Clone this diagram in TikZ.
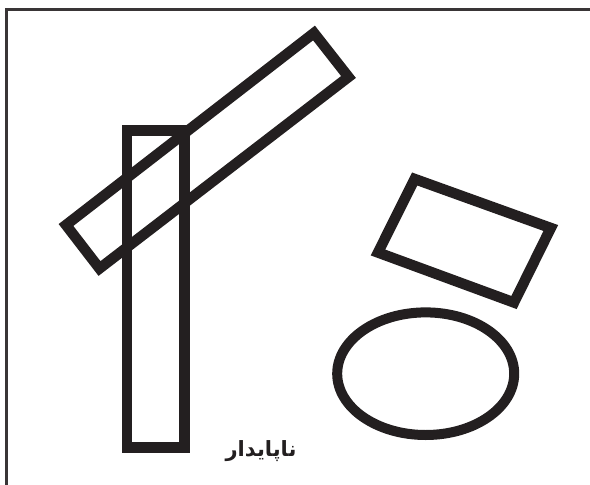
\documentclass[tikz,border=0pt]{standalone}
\usepackage{fontspec}
\newfontfamily\arabicfont[Script=Arabic]{DejaVu Sans}
\TeXXeTstate=1
\definecolor{ink}{HTML}{231F20}
\begin{document}
\begin{tikzpicture}[x=1pt,y=-1pt,
  outline/.style={draw=ink,line width=10.5pt,line join=miter},
  framestyle/.style={draw=ink!90,line width=2.6pt}]
\useasboundingbox (0,0) rectangle (590,485);
% frame (only top and left visible)
\draw[framestyle] (6.3,485) -- (6.3,9.2) -- (590,9.2);
% vertical rectangle
\draw[outline] (127,130.5) rectangle (184.5,447.5);
% tilted long rectangle
\draw[outline] (314,33) -- (348.5,77) -- (99.5,268.5) -- (66,225) -- cycle;
% small tilted rectangle
\draw[outline] (414.7,179) -- (550.8,228) -- (514,302.5) -- (378,252.5) -- cycle;
% ellipse
\draw[outline,line width=10pt] (425.7,373.7) ellipse [x radius=88.5, y radius=61.3];
% label
\node[text=ink,font=\arabicfont\bfseries\fontsize{21}{24}\selectfont] (lbl) at (261,451) {\beginR ناپایدار\endR};
\end{tikzpicture}
\end{document}
